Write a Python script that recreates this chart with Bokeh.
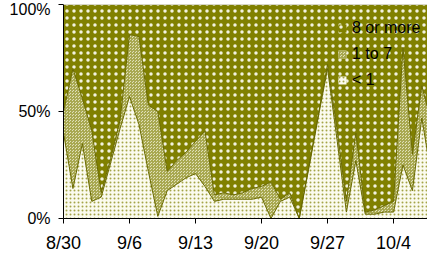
from bokeh.plotting import figure
from bokeh.models import ColumnDataSource, FixedTicker, Legend, LegendItem, Range1d, Span
from bokeh.embed import file_html
from bokeh.resources import INLINE

# days since 8/30
days = list(range(40))
tick_days = [0, 7, 14, 21, 28, 35]
tick_labels = ["8/30", "9/6", "9/13", "9/20", "9/27", "10/4"]

lt1 = [40, 14, 35, 8, 10, 26, 42, 57, 44, 22, 1, 13, 16, 19, 21, 15, 8, 9, 9, 9,
       9, 10, 0, 8, 10, 0, 23, 47, 70, 37, 3, 27, 2, 2, 3, 3, 25, 13, 47, 20]
one_to_7 = [10, 56, 21, 33, 2, 2, 4, 29, 41, 31, 49, 9, 11, 12, 15, 26, 3, 3, 2, 3,
            5, 5, 17, 1, 2, 0, 1, 1, 2, 5, 5, 13, 1, 2, 3, 5, 55, 17, 15, 25]
eight_plus = [100 - a - b for a, b in zip(lt1, one_to_7)]

zero = [0] * len(days)
cum1 = [a for a in lt1]
cum2 = [a + b for a, b in zip(lt1, one_to_7)]
cum3 = [a + b for a, b in zip(cum2, eight_plus)]

src = ColumnDataSource(dict(d=days, zero=zero, c1=cum1, c2=cum2, c3=cum3))

FONT = "Liberation Sans"

p = figure(width=427, height=260, output_backend="svg", toolbar_location=None,
           x_range=Range1d(0, 38.6), y_range=Range1d(0, 100),
           min_border_left=63, min_border_right=0, min_border_top=4, min_border_bottom=42)
p.outline_line_color = None
p.grid.visible = False
p.background_fill_color = "white"
p.border_fill_color = "white"

r_lt1 = p.varea(x="d", y1="zero", y2="c1", source=src, fill_color="#fbfbee",
                hatch_pattern="dot", hatch_color="#a4a448", hatch_scale=4, hatch_weight=2)
r_mid = p.varea(x="d", y1="c1", y2="c2", source=src, fill_color="#e0e0b8",
                hatch_pattern="criss_cross", hatch_color="#a8a850", hatch_scale=3, hatch_weight=1)
r_top = p.varea(x="d", y1="c2", y2="c3", source=src, fill_color="#808000",
                hatch_pattern="dot", hatch_color="#f2f2e0", hatch_scale=7, hatch_weight=3)

p.line(x="d", y="c1", source=src, line_color="#6a6a00", line_width=1)
p.line(x="d", y="c2", source=src, line_color="#6a6a00", line_width=1)

p.add_layout(Span(location=100, dimension="width", line_color="#cccccc", line_width=1))

p.yaxis.ticker = FixedTicker(ticks=[0, 50, 100])
p.yaxis.major_label_overrides = {0: "0%", 50: "50%", 100: "100%"}
p.xaxis.ticker = FixedTicker(ticks=tick_days)
p.xaxis.major_label_overrides = {d: l for d, l in zip(tick_days, tick_labels)}

for ax in (p.xaxis, p.yaxis):
    ax.axis_line_color = "black"
    ax.axis_line_width = 1
    ax.major_tick_line_color = "black"
    ax.major_tick_in = 0
    ax.major_tick_out = 5
    ax.minor_tick_line_color = None
    ax.major_label_text_font = FONT
    ax.major_label_text_color = "black"

p.yaxis.major_label_text_font_size = "16px"
p.yaxis.major_label_standoff = 8
p.xaxis.major_label_text_font_size = "18px"
p.xaxis.major_label_standoff = 9

legend = Legend(items=[
    LegendItem(label="8 or more", renderers=[r_top]),
    LegendItem(label="1 to 7", renderers=[r_mid]),
    LegendItem(label="< 1", renderers=[r_lt1]),
], location=(274, 129))
legend.background_fill_alpha = 0
legend.border_line_alpha = 0
legend.label_text_font = FONT
legend.label_text_font_size = "16px"
legend.label_text_color = "black"
legend.glyph_width = 10
legend.glyph_height = 10
legend.label_height = 10
legend.label_standoff = 5
legend.spacing = 8
legend.padding = 0
legend.margin = 0
p.add_layout(legend)

open("out.html", "w").write(file_html(p, INLINE))
